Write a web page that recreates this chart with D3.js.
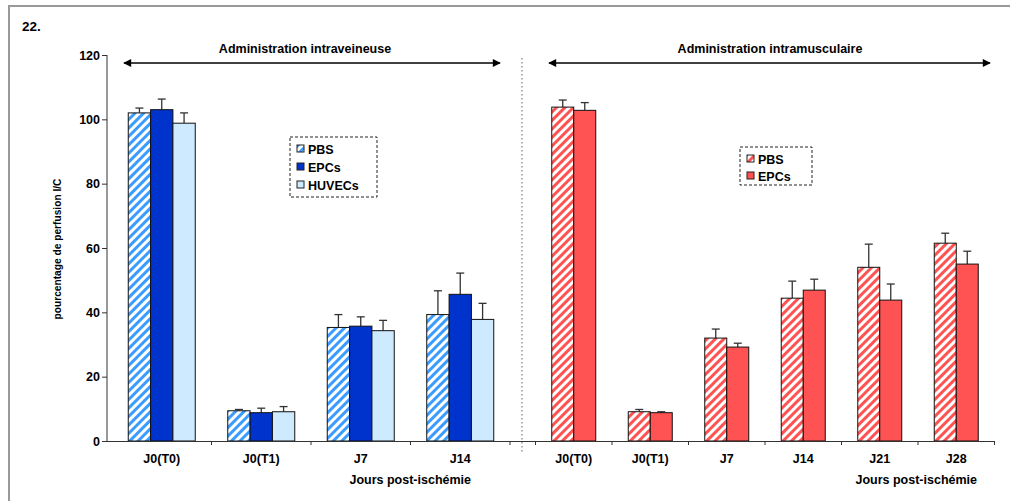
<!DOCTYPE html>
<html><head><meta charset="utf-8">
<script src="https://cdn.jsdelivr.net/npm/d3@7"></script>
<style>
body{margin:0;background:#fff;}
svg{display:block;font-family:"Liberation Sans",Arial,sans-serif;font-weight:bold;}
</style></head>
<body><svg id="c" width="1010" height="501"></svg>
<script>
// ---- data ----
const categoriesIV = ["J0(T0)", "J0(T1)", "J7", "J14"];
const seriesIV = ["PBS", "EPCs", "HUVECs"];
const ivPBS      = [102.0, 9.4, 35.3, 39.3];
const ivPBSErr   = [1.5, 0.4, 4.0, 7.4];
const ivEPCs     = [103.0, 8.8, 35.7, 45.6];
const ivEPCsErr  = [3.3, 1.4, 2.9, 6.6];
const ivHUVECs   = [98.8, 9.1, 34.3, 37.8];
const ivHUVECsErr= [3.2, 1.6, 3.2, 5.0];

const categoriesIM = ["J0(T0)", "J0(T1)", "J7", "J14", "J21", "J28"];
const seriesIM = ["PBS", "EPCs"];
const imPBS     = [103.8, 9.1, 32.0, 44.4, 54.0, 61.5];
const imPBSErr  = [2.2, 0.7, 2.8, 5.3, 7.2, 3.1];
const imEPCs    = [102.8, 8.8, 29.2, 46.9, 43.8, 55.0];
const imEPCsErr = [2.4, 0.3, 1.2, 3.4, 5.0, 4.0];

const yTicks = [0, 20, 40, 60, 80, 100, 120];
const yTitle = "pourcentage de perfusion I/C";
const xTitle = "Jours post-ischémie";
const titleIV = "Administration intraveineuse";
const titleIM = "Administration intramusculaire";
const figLabel = "22.";

// ---- drawing ----
const svg = d3.select("#c");
const defs = svg.append("defs");
function hatch(id, color){
  const p = defs.append("pattern").attr("id", id).attr("patternUnits","userSpaceOnUse")
    .attr("width", 6).attr("height", 6).attr("patternTransform","rotate(45)");
  p.append("rect").attr("width",6).attr("height",6).attr("fill","#fff");
  p.append("rect").attr("width",3).attr("height",6).attr("fill",color);
}
hatch("hBlue", "#3b9cff");
hatch("hRed", "#ff5252");
defs.append("marker").attr("id","arr").attr("viewBox","0 0 10 10").attr("refX",9).attr("refY",5)
  .attr("markerWidth",10).attr("markerHeight",8).attr("markerUnits","userSpaceOnUse").attr("orient","auto-start-reverse")
  .append("path").attr("d","M0,0 L10,5 L0,10 z").attr("fill","#000");

// frame
svg.append("rect").attr("x",9).attr("y",6).attr("width",1010).attr("height",510)
  .attr("fill","none").attr("stroke","#999").attr("stroke-width",2);
svg.append("text").attr("x",22).attr("y",31).attr("font-size",13.5).text(figLabel);

const y = d3.scaleLinear().domain([0,120]).range([441, 55]);
const xL = d3.scaleBand().domain(categoriesIV).range([112, 510]).paddingInner(0).paddingOuter(0);
const xR = d3.scaleBand().domain(categoriesIM).range([535.5, 994.5]).paddingInner(0).paddingOuter(0);
const innerL = d3.scaleBand().domain(seriesIV).range([0, 67]);
const innerR = d3.scaleBand().domain(seriesIM).range([0, 44]);

// y axis
const yAx = svg.append("g").attr("transform","translate(107,0)")
  .call(d3.axisLeft(y).tickValues(yTicks).tickSize(5).tickPadding(2).tickFormat(d3.format("d")));
yAx.select(".domain").attr("stroke","#333").attr("d","M-0,441V55H0").attr("stroke-width",1);
yAx.selectAll(".tick line").attr("stroke","#333");
yAx.selectAll("text").attr("font-size",12.5).attr("font-family","Liberation Sans, Arial, sans-serif").attr("font-weight","bold").attr("fill","#000");

svg.append("text").attr("transform","translate(61,249) rotate(-90)").attr("text-anchor","middle")
  .attr("font-size",10.2).text(yTitle);

// separator
svg.append("line").attr("x1",522).attr("x2",522).attr("y1",58).attr("y2",452)
  .attr("stroke","#999").attr("stroke-width",1.5).attr("stroke-dasharray","1.5,2.5");

// bars
function drawGroup(x, inner, cats, series, vals, errs, fills){
  const g = svg.append("g");
  series.forEach((s, si) => {
    cats.forEach((c, ci) => {
      const cx = x(c) + x.bandwidth()/2 - inner.range()[1]/2 + inner(s);
      const v = vals[si][ci], e = errs[si][ci];
      const bx = cx + inner.bandwidth()/2;
      g.append("line").attr("x1",bx).attr("x2",bx).attr("y1",y(v)).attr("y2",y(v+e)).attr("stroke","#333").attr("stroke-width",1.3);
      g.append("line").attr("x1",bx-4).attr("x2",bx+4).attr("y1",y(v+e)).attr("y2",y(v+e)).attr("stroke","#333").attr("stroke-width",1.3);
      g.append("rect").attr("x",cx).attr("y",y(v)).attr("width",inner.bandwidth()).attr("height",y(0)-y(v))
        .attr("fill",fills[si]).attr("stroke","#111").attr("stroke-width",1);
    });
  });
}
drawGroup(xL, innerL, categoriesIV, seriesIV, [ivPBS, ivEPCs, ivHUVECs], [ivPBSErr, ivEPCsErr, ivHUVECsErr],
  ["url(#hBlue)", "#0033cc", "#cdeaff"]);
drawGroup(xR, innerR, categoriesIM, seriesIM, [imPBS, imEPCs], [imPBSErr, imEPCsErr],
  ["url(#hRed)", "#ff5252"]);

// x axes
svg.append("line").attr("x1",107).attr("x2",994.5).attr("y1",441.5).attr("y2",441.5).attr("stroke","#333");
function xAxis(x, first){
  const g = svg.append("g").attr("transform","translate(0,441)")
    .call(d3.axisBottom(x).tickSize(0).tickPadding(13));
  g.select(".domain").remove();
  g.selectAll("text").attr("font-size",12.5).attr("font-family","Liberation Sans, Arial, sans-serif").attr("font-weight","bold").attr("fill","#000");
  x.domain().forEach((c, i) => {
    const xs = [];
    if (i === 0 && first) xs.push(x(c));
    xs.push(x(c) + x.bandwidth());
    xs.forEach(px => svg.append("line").attr("x1",px).attr("x2",px).attr("y1",441).attr("y2",445).attr("stroke","#333"));
  });
}
xAxis(xL, false);
xAxis(xR, true);
svg.append("text").attr("x", xL(categoriesIV[3]) + xL.bandwidth()/2 - 50).attr("y",484).attr("text-anchor","middle").attr("font-size",12.5).text(xTitle);
svg.append("text").attr("x", xR(categoriesIM[5]) + xR.bandwidth()/2 - 40).attr("y",484).attr("text-anchor","middle").attr("font-size",12.5).text(xTitle);

// arrows + titles
svg.append("line").attr("x1",124).attr("x2",500).attr("y1",63).attr("y2",63).attr("stroke","#000").attr("stroke-width",1.5)
  .attr("marker-start","url(#arr)").attr("marker-end","url(#arr)");
svg.append("text").attr("x",305).attr("y",53).attr("text-anchor","middle").attr("font-size",12.5).text(titleIV);
svg.append("line").attr("x1",549).attr("x2",990).attr("y1",63).attr("y2",63).attr("stroke","#000").attr("stroke-width",1.5)
  .attr("marker-start","url(#arr)").attr("marker-end","url(#arr)");
svg.append("text").attr("x",770).attr("y",53).attr("text-anchor","middle").attr("font-size",12.5).text(titleIM);

// legends
function legend(x0, y0, w, h, series, fills, dy){
  svg.append("rect").attr("x",x0).attr("y",y0).attr("width",w).attr("height",h)
    .attr("fill","#fff").attr("stroke","#222").attr("stroke-dasharray","3,2");
  series.forEach((s,i) => {
    const yy = y0 + 12 + i*dy;
    svg.append("rect").attr("x",x0+7).attr("y",yy-4).attr("width",7).attr("height",7)
      .attr("fill",fills[i]).attr("stroke","#222").attr("stroke-width",1);
    svg.append("text").attr("x",x0+18).attr("y",yy+4.5).attr("font-size",12.5).text(s);
  });
}
legend(290, 137, 87, 60, seriesIV, ["url(#hBlue)", "#0033cc", "#cdeaff"], 18);
legend(740, 147, 72, 38, seriesIM, ["url(#hRed)", "#ff5252"], 17);
</script></body></html>
